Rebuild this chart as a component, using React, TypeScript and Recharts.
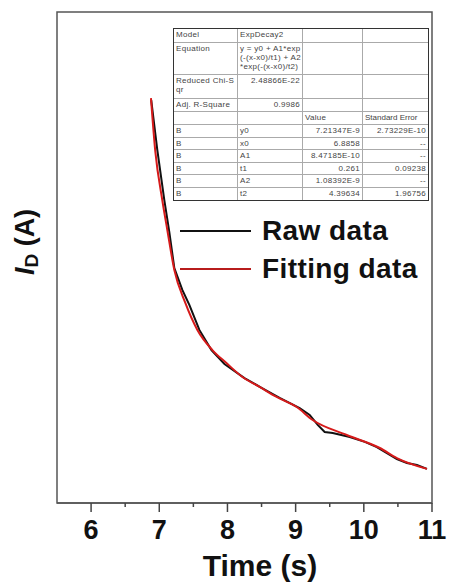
import { LineChart, Line, XAxis, YAxis, ReferenceArea } from "recharts";

// raw measurement (black), current in nA
const rawTime = [6.882, 6.971, 7.074, 7.147, 7.221, 7.338, 7.441, 7.588, 7.765, 7.956, 8.25, 8.5, 8.765, 9.059, 9.206, 9.324, 9.426, 9.544, 9.794, 10.015, 10.191, 10.485, 10.632, 10.779, 10.926];
const rawCurrent = [9.141, 8.938, 8.734, 8.604, 8.457, 8.368, 8.307, 8.205, 8.123, 8.066, 8.009, 7.969, 7.928, 7.887, 7.859, 7.818, 7.789, 7.785, 7.769, 7.749, 7.728, 7.679, 7.663, 7.655, 7.639];

// ExpDecay2 fit (red)
const fitTime = [6.878, 6.941, 7.044, 7.118, 7.221, 7.382, 7.559, 7.779, 7.985, 8.221, 8.471, 8.721, 9.015, 9.25, 9.75, 10.235, 10.485, 10.926];
const fitCurrent = [9.149, 8.934, 8.734, 8.612, 8.449, 8.315, 8.205, 8.123, 8.07, 8.013, 7.973, 7.932, 7.891, 7.838, 7.777, 7.724, 7.683, 7.639];

const xTicks = [6, 6.5, 7, 7.5, 8, 8.5, 9, 9.5, 10, 10.5, 11];
const xDomain = [5.5, 11];
const yDomain = [7.5, 9.5];

const paramNames = ["y0", "x0", "A1", "t1", "A2", "t2"];
const paramValues = ["7.21347E-9", "6.8858", "8.47185E-10", "0.261", "1.08392E-9", "4.39634"];
const paramErrors = ["2.73229E-10", "--", "--", "0.09238", "--", "1.96756"];

const rawData = rawTime.map((t, i) => ({ t, v: rawCurrent[i] }));
const fitData = fitTime.map((t, i) => ({ t, v: fitCurrent[i] }));

const FONT = "Arial, 'Liberation Sans', Helvetica, sans-serif";

const TimeTick = (props: any) => {
  const { x, y, payload } = props;
  const major = Number.isInteger(payload.value);
  return (
    <g>
      <line x1={x} x2={x} y1={y} y2={y + (major ? 9 : 4)} stroke="#444" strokeWidth={1.5} />
      {major && (
        <text x={x} y={y + 36} textAnchor="middle" fontFamily={FONT} fontWeight="bold" fontSize={27} fill="#111">
          {payload.value}
        </text>
      )}
    </g>
  );
};

export default function App() {
  const cell = (extra: React.CSSProperties = {}): React.CSSProperties => ({
    borderRight: "1px solid #aaa",
    borderBottom: "1px solid #aaa",
    padding: "1px 2px",
    overflow: "hidden",
    whiteSpace: "nowrap",
    ...extra,
  });
  const rowH = [14, 32, 24, 13, 13, 12.5, 12.5, 12.5, 12.5, 12.5, 12.5];
  const last = (i: number) => (i === 5 ? "none" : "1px solid #aaa");

  return (
    <div style={{ position: "absolute", left: 0, top: 0, width: 449, height: 585, background: "#fff" }}>
      <LineChart width={449} height={585} data={fitData} margin={{ top: 12, right: 17, left: 57, bottom: 0 }}>
        <XAxis
          type="number"
          dataKey="t"
          domain={xDomain}
          ticks={xTicks}
          allowDataOverflow
          interval={0}
          tick={<TimeTick />}
          tickLine={false}
          tickSize={0}
          tickMargin={0}
          height={82}
          axisLine={{ stroke: "#555", strokeWidth: 1.5 }}
          label={() => (
            <text x={260} y={576} textAnchor="middle" fontFamily={FONT} fontWeight="bold" fontSize={30} fill="#111">
              Time (s)
            </text>
          )}
        />
        <YAxis
          type="number"
          dataKey="v"
          domain={yDomain}
          allowDataOverflow
          width={0}
          tick={false}
          tickLine={false}
          axisLine={{ stroke: "#555", strokeWidth: 1.5 }}
        />
        <ReferenceArea x1={xDomain[0]} x2={xDomain[1]} y1={yDomain[0]} y2={yDomain[1]} fill="none" stroke="#555" strokeWidth={1.5} ifOverflow="visible" />
        <Line data={rawData} dataKey="v" type="linear" stroke="#111" strokeWidth={2} dot={false} isAnimationActive={false} />
        <Line data={fitData} dataKey="v" type="monotone" stroke="#d61a1a" strokeWidth={2} dot={false} isAnimationActive={false} />
      </LineChart>

      {/* y axis title */}
      <div
        style={{
          position: "absolute",
          left: 28,
          top: 242,
          transform: "translate(-50%, -50%) rotate(-90deg)",
          whiteSpace: "nowrap",
          fontFamily: FONT,
          fontWeight: "bold",
          fontSize: 27,
          color: "#111",
          lineHeight: "30px",
        }}
      >
        <i>I</i>
        <sub style={{ fontSize: 19, verticalAlign: "-4px" }}>D</sub> (A)
      </div>

      {/* fit report table */}
      <div
        style={{
          position: "absolute",
          left: 173,
          top: 28,
          display: "grid",
          gridTemplateColumns: "64px 65px 60px 65px",
          gridTemplateRows: rowH.map((h) => `${h}px`).join(" "),
          border: "1.5px solid #333",
          fontFamily: FONT,
          fontSize: 8,
          letterSpacing: 0.3,
          lineHeight: "9px",
          color: "#444",
          background: "#fff",
          boxSizing: "border-box",
        }}
      >
        <div style={cell()}>Model</div>
        <div style={cell()}>ExpDecay2</div>
        <div style={cell()} />
        <div style={cell({ borderRight: "none" })} />

        <div style={cell()}>Equation</div>
        <div style={cell()}>
          y = y0 + A1*exp
          <br />
          (-(x-x0)/t1) + A2
          <br />
          *exp(-(x-x0)/t2)
        </div>
        <div style={cell()} />
        <div style={cell({ borderRight: "none" })} />

        <div style={cell()}>
          Reduced Chi-S
          <br />
          qr
        </div>
        <div style={cell({ textAlign: "right" })}>2.48866E-22</div>
        <div style={cell()} />
        <div style={cell({ borderRight: "none" })} />

        <div style={cell()}>Adj. R-Square</div>
        <div style={cell({ textAlign: "right" })}>0.9986</div>
        <div style={cell()} />
        <div style={cell({ borderRight: "none" })} />

        <div style={cell()} />
        <div style={cell()} />
        <div style={cell()}>Value</div>
        <div style={cell({ borderRight: "none", letterSpacing: 0 })}>Standard Error</div>

        {paramNames.map((n, i) => [
          <div key={`b${i}`} style={cell({ borderBottom: last(i) })}>B</div>,
          <div key={`n${i}`} style={cell({ borderBottom: last(i) })}>{n}</div>,
          <div key={`v${i}`} style={cell({ textAlign: "right", borderBottom: last(i) })}>{paramValues[i]}</div>,
          <div key={`e${i}`} style={cell({ textAlign: "right", borderRight: "none", borderBottom: last(i) })}>{paramErrors[i]}</div>,
        ])}
      </div>

      {/* legend */}
      {[
        { label: "Raw data", color: "#111", y: 231 },
        { label: "Fitting data", color: "#b81c1c", y: 269 },
      ].map((s) => (
        <div key={s.label} style={{ position: "absolute", left: 180, top: s.y - 15, height: 30, display: "flex", alignItems: "center" }}>
          <span style={{ display: "inline-block", width: 71, height: 2, background: s.color }} />
          <span style={{ marginLeft: 11, fontFamily: FONT, fontWeight: "bold", fontSize: 28, letterSpacing: 0.4, color: "#111", lineHeight: "30px" }}>
            {s.label}
          </span>
        </div>
      ))}
    </div>
  );
}
